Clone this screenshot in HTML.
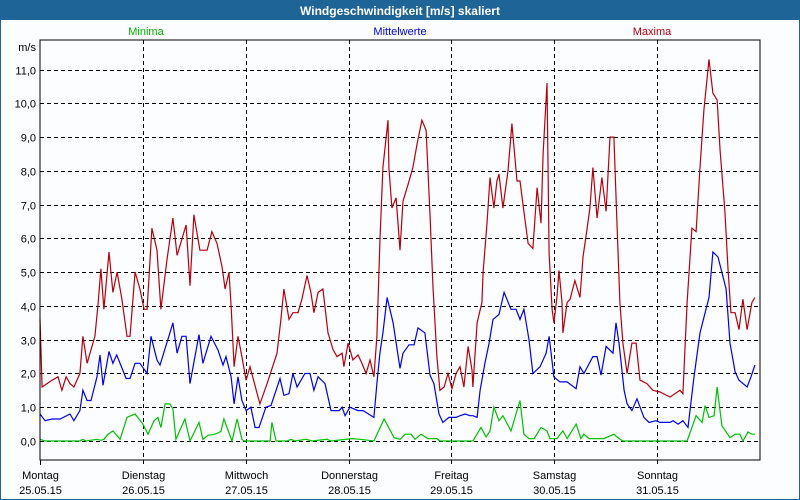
<!DOCTYPE html>
<html><head><meta charset="utf-8"><style>
body{margin:0;background:#fff}
svg{display:block;font-family:"Liberation Sans","DejaVu Sans",sans-serif}
</style></head><body>
<svg id="chart" width="800" height="500" viewBox="0 0 800 500" xmlns="http://www.w3.org/2000/svg">
<rect x="0" y="0" width="800" height="500" fill="#fbfdfe" stroke="#1f6496" stroke-width="2"/>
<rect x="0" y="0" width="800" height="20" fill="#1f6496"/>
<text x="400" y="15" text-anchor="middle" font-size="12" font-weight="bold" fill="#fff">Windgeschwindigkeit [m/s] skaliert</text>
<text x="146" y="35" text-anchor="middle" font-size="11" fill="#00b000">Minima</text>
<text x="400" y="35" text-anchor="middle" font-size="11" fill="#0000e0">Mittelwerte</text>
<text x="652" y="35" text-anchor="middle" font-size="11" fill="#b00010">Maxima</text>
<text x="36" y="51" text-anchor="end" font-size="11" fill="#000">m/s</text>
<g id="grid"></g>
<g id="series"></g>
<rect x="40" y="40" width="720" height="420" fill="none" stroke="#000" stroke-width="1"/>
<g id="labels"></g>
</svg>
<script>
const dayNames = ["Montag","Dienstag","Mittwoch","Donnerstag","Freitag","Samstag","Sonntag"];
const dayDates = ["25.05.15","26.05.15","27.05.15","28.05.15","29.05.15","30.05.15","31.05.15"];
const yTicks = [0,1,2,3,4,5,6,7,8,9,10,11];
const yTickLabels = ["0,0","1,0","2,0","3,0","4,0","5,0","6,0","7,0","8,0","9,0","10,0","11,0"];

const tMax = [0,0.5,2.8,4.2,5.1,6.1,7.0,7.9,9.3,10.0,11.0,12.8,13.5,14.2,14.9,16.1,17.0,18.0,19.1,20.3,21.0,22.2,23.3,24.3,25.0,26.1,27.3,28.2,29.6,31.0,32.0,34.1,35.0,35.9,37.3,39.0,40.1,41.3,42.5,43.2,44.1,44.6,45.3,46.2,47.1,48.1,49.0,51.3,53.0,55.3,56.2,56.9,58.1,59.0,60.2,61.1,62.3,63.2,63.9,64.9,66.0,67.2,68.4,69.3,70.5,70.9,71.9,73.0,74.2,75.1,76.1,77.0,77.9,78.6,79.3,80.0,81.2,81.4,82.1,83.1,84.0,84.7,85.9,87.0,88.0,89.1,90.1,91.0,91.7,92.6,93.3,94.3,95.2,96.1,97.1,98.0,98.9,99.9,100.8,101.0,102.0,103.1,103.4,104.3,105.0,105.9,106.6,107.1,108.0,109.2,110.1,111.3,112.0,112.7,113.9,115.0,116.0,116.9,117.4,118.3,118.8,119.5,119.9,120.6,121.1,121.8,122.0,123.0,123.7,124.8,126.0,126.7,127.6,128.3,129.0,130.0,131.1,132.1,133.0,133.9,134.6,135.3,136.0,137.0,138.1,139.1,140.0,141.6,143.0,144.7,147.0,149.3,150.0,151.0,152.1,153.1,154.0,154.9,156.1,157.0,158.0,158.7,159.8,160.5,161.2,162.2,163.1,164.0,165.0,166.1,166.8];
const vMax = [3.6,1.6,1.8,1.9,1.5,1.9,1.7,1.6,2.0,3.1,2.3,3.1,4.0,5.1,3.9,5.6,4.4,5.0,4.2,3.1,3.1,5.0,4.5,3.9,3.9,6.3,5.65,3.9,5.35,6.6,5.5,6.4,4.6,6.7,5.65,5.65,6.2,5.85,5.15,4.5,5.0,4.0,2.2,3.1,2.5,1.8,2.2,1.1,1.7,2.6,3.6,4.5,3.6,3.8,3.8,4.2,4.9,4.4,3.8,4.4,4.5,3.2,2.7,2.5,2.6,2.2,2.9,2.4,2.55,2.3,2.0,2.4,1.9,3.1,5.9,8.1,9.5,8.1,6.9,7.2,5.65,7.1,7.6,8.1,8.8,9.5,9.2,6.7,4.55,2.5,1.5,1.6,2.0,1.55,2.0,2.2,1.6,2.8,2.1,1.6,3.5,4.1,5.0,6.45,7.8,6.9,7.7,7.9,6.9,8.0,9.4,7.7,7.7,7.0,5.85,5.7,7.5,6.45,8.5,10.6,5.55,3.9,3.5,4.25,5.05,4.1,3.2,4.1,4.2,4.75,4.25,5.45,6.25,6.9,8.1,6.6,7.8,6.8,9.0,9.0,6.5,4.1,2.9,2.0,2.9,2.9,1.8,1.7,1.5,1.45,1.3,1.5,1.4,4.1,6.3,6.2,8.1,9.8,11.3,10.3,10.1,8.6,6.8,5.15,3.8,3.8,3.3,4.2,3.3,4.1,4.25];

const tMean = [0,1.2,2.8,4.7,7.0,7.9,9.3,10.0,11.0,11.9,13.3,14.0,14.7,16.1,17.0,17.9,20.1,21.0,22.2,23.3,25.0,25.9,27.3,28.0,30.3,31.0,32.0,33.1,34.1,35.0,37.1,38.0,39.9,41.5,42.7,43.4,44.6,45.3,46.2,47.1,48.1,49.2,50.2,51.1,52.7,53.9,56.0,56.9,58.1,59.0,60.0,61.8,63.0,63.9,64.9,66.5,67.9,69.8,70.5,71.2,72.3,74.2,75.4,77.9,78.6,79.3,80.0,81.0,82.4,84.0,84.7,86.1,87.3,88.2,89.8,91.0,91.9,93.1,94.0,95.4,97.1,98.0,99.2,100.3,101.0,102.0,102.7,103.8,104.8,105.7,107.1,108.3,109.9,111.1,112.0,112.9,114.1,115.0,116.7,118.1,118.8,119.9,121.3,123.0,125.1,126.0,126.9,129.0,130.0,130.9,132.1,133.7,134.4,135.1,136.3,137.0,138.1,139.3,140.9,142.1,143.7,144.7,147.0,147.7,148.9,150.0,151.2,152.6,154.0,156.1,157.0,158.2,160.1,161.0,162.2,163.1,165.0,165.9,166.8];
const vMean = [0.8,0.6,0.65,0.65,0.8,0.6,0.9,1.5,1.2,1.2,1.9,2.55,1.65,2.65,2.3,2.55,1.85,1.85,2.3,2.3,2.0,3.1,2.4,2.25,3.2,3.5,2.6,3.1,3.1,1.7,3.15,2.3,3.1,2.7,2.25,2.5,1.9,1.1,1.9,1.2,0.9,1.0,0.4,0.4,1.0,1.05,1.85,1.35,1.4,2.0,1.6,2.0,2.0,1.5,1.9,1.7,0.9,0.9,1.0,0.75,1.0,0.9,0.9,0.7,1.7,2.6,3.2,4.25,3.5,2.15,2.6,2.85,2.85,3.35,3.2,1.95,1.7,0.8,0.55,0.7,0.7,0.75,0.8,0.75,0.75,0.7,1.5,2.3,2.9,3.6,3.75,4.4,3.9,3.9,3.6,3.9,3.0,2.0,2.2,2.6,3.1,1.9,1.75,1.75,1.55,2.2,2.0,2.5,2.5,1.95,2.8,2.6,3.5,2.9,1.5,1.1,0.9,1.25,0.7,0.55,0.6,0.55,0.55,0.6,0.5,0.6,0.4,1.9,3.2,4.25,5.6,5.45,4.5,2.9,2.05,1.8,1.6,1.9,2.25,2.15];

const tMin = [0,1.2,9.3,10.0,10.7,13.3,14.2,14.9,15.9,17.0,18.7,20.3,21.2,22.2,24.0,25.2,26.6,27.5,28.2,29.2,30.3,31.0,31.7,33.8,35.0,37.1,38.0,39.2,40.8,42.2,42.9,44.8,46.0,47.1,47.6,53.7,54.1,55.1,57.6,58.6,59.5,62.1,63.5,67.0,67.9,72.8,74.7,77.9,80.3,82.6,84.0,85.2,86.6,87.5,88.9,90.5,92.6,93.3,101.0,102.9,104.1,105.0,105.9,107.1,108.0,109.9,112.0,112.9,114.1,115.3,116.9,118.3,119.0,120.6,122.0,123.0,125.1,126.2,126.9,128.1,131.6,133.9,135.1,136.0,151.0,153.1,154.5,155.2,156.1,157.3,158.0,159.1,161.0,162.2,163.3,164.0,165.2,166.1,166.8];
const vMin = [0.05,0,0,0.05,0,0.05,0.02,0.05,0.2,0.3,0.05,0.7,0.75,0.8,0.5,0.2,0.6,0.7,0.4,1.1,1.1,0.95,0.05,0.65,0,0.55,0.05,0.17,0.2,0.28,0.65,0,0.65,0.05,0,0,0.55,0,0,0.05,0,0.05,0,0.05,0,0.07,0.05,0,0.65,0.1,0.05,0.2,0.2,0.05,0.2,0.07,0.07,0,0,0.4,0.12,0.3,1.0,0.6,0.75,0.3,1.2,0.2,0.07,0.07,0.4,0.3,0.07,0.07,0.3,0.07,0.5,0.07,0.2,0.07,0.07,0.2,0.07,0,0,0.75,0.55,1.05,0.7,0.75,1.6,0.45,0.1,0.2,0.2,0,0.27,0.2,0.2];

const NS = "http://www.w3.org/2000/svg";
const X0 = 40, X1 = 760, HOURS = 168;
const Y0 = 441, UNIT = 33.77;
function xScale(h){ return X0 + (h / HOURS) * (X1 - X0); }
function yScale(v){ return Y0 - v * UNIT; }

const grid = document.getElementById("grid");
const labels = document.getElementById("labels");
const series = document.getElementById("series");

yTicks.forEach((v, i) => {
  const y = Math.round(yScale(v)) + 0.5;
  const ln = document.createElementNS(NS, "line");
  ln.setAttribute("x1", X0); ln.setAttribute("x2", X1);
  ln.setAttribute("y1", y); ln.setAttribute("y2", y);
  ln.setAttribute("stroke", "#000"); ln.setAttribute("stroke-dasharray", "4,3");
  
  
  grid.appendChild(ln);
  const t = document.createElementNS(NS, "text");
  t.setAttribute("x", 36); t.setAttribute("y", y + 4);
  t.setAttribute("text-anchor", "end"); t.setAttribute("font-size", "11");
  t.textContent = yTickLabels[i];
  
  
  labels.appendChild(t);
});

dayNames.forEach((d, i) => {
  const x = Math.round(xScale(i * 24)) + 0.5;
  if (i > 0) {
    const ln = document.createElementNS(NS, "line");
    ln.setAttribute("x1", x); ln.setAttribute("x2", x);
    ln.setAttribute("y1", 40); ln.setAttribute("y2", 465);
    ln.setAttribute("stroke", "#000"); ln.setAttribute("stroke-dasharray", "4,3");
    
    
    grid.appendChild(ln);
  } else {
    const tk = document.createElementNS(NS, "line");
    tk.setAttribute("x1", x); tk.setAttribute("x2", x);
    tk.setAttribute("y1", 460); tk.setAttribute("y2", 465);
    tk.setAttribute("stroke", "#000");
    
    
    grid.appendChild(tk);
  }
  const t1 = document.createElementNS(NS, "text");
  t1.setAttribute("x", x); t1.setAttribute("y", 479);
  t1.setAttribute("text-anchor", "middle"); t1.setAttribute("font-size", "11");
  t1.textContent = d;
  
  
  labels.appendChild(t1);
  const t2 = document.createElementNS(NS, "text");
  t2.setAttribute("x", x); t2.setAttribute("y", 494);
  t2.setAttribute("text-anchor", "middle"); t2.setAttribute("font-size", "11");
  t2.textContent = dayDates[i];
  
  
  labels.appendChild(t2);
});

function drawLine(ts, vs, color, name){
  const p = document.createElementNS(NS, "polyline");
  p.setAttribute("points", ts.map((t, i) => xScale(t).toFixed(1) + "," + yScale(vs[i]).toFixed(1)).join(" "));
  p.setAttribute("fill", "none");
  p.setAttribute("stroke", color);
  p.setAttribute("stroke-width", "1.2");
  
  
  series.appendChild(p);
}
drawLine(tMin, vMin, "#00c000", "minima-line");
drawLine(tMean, vMean, "#0000f0", "mittelwerte-line");
drawLine(tMax, vMax, "#b8000c", "maxima-line");
</script>
</body></html>
